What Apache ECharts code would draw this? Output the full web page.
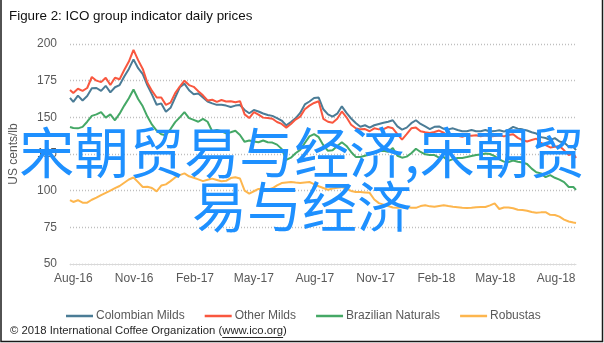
<!DOCTYPE html>
<html>
<head>
<meta charset="utf-8">
<script src="https://cdn.jsdelivr.net/npm/echarts@6/dist/echarts.min.js"></script>
<style>
  html, body { margin: 0; padding: 0; background: #fff; }
  #chart { width: 604px; height: 343px; }
</style>
</head>
<body>
<div id="chart"></div>
<script>
// Weekly readings of the ICO group indicator prices (US cents/lb)
const dates = [
  '2016-07-27',
  '2016-08-01','2016-08-08','2016-08-15','2016-08-22','2016-08-29',
  '2016-09-05','2016-09-12','2016-09-19','2016-09-26',
  '2016-10-03','2016-10-10','2016-10-17','2016-10-24','2016-10-31',
  '2016-11-07','2016-11-14','2016-11-21','2016-11-28',
  '2016-12-05','2016-12-12','2016-12-19','2016-12-26',
  '2017-01-02','2017-01-09','2017-01-16','2017-01-23','2017-01-30',
  '2017-02-06','2017-02-13','2017-02-20','2017-02-27',
  '2017-03-06','2017-03-13','2017-03-20','2017-03-27',
  '2017-04-03','2017-04-10','2017-04-17','2017-04-24',
  '2017-05-01','2017-05-08','2017-05-15','2017-05-22','2017-05-29',
  '2017-06-05','2017-06-12','2017-06-19','2017-06-26',
  '2017-07-03','2017-07-10','2017-07-17','2017-07-24','2017-07-31',
  '2017-08-07','2017-08-14','2017-08-21','2017-08-28',
  '2017-09-04','2017-09-11','2017-09-18','2017-09-25',
  '2017-10-02','2017-10-09','2017-10-16','2017-10-23','2017-10-30',
  '2017-11-06','2017-11-13','2017-11-20','2017-11-27',
  '2017-12-04','2017-12-11','2017-12-18','2017-12-25',
  '2018-01-01','2018-01-08','2018-01-15','2018-01-22','2018-01-29',
  '2018-02-05','2018-02-12','2018-02-19','2018-02-26',
  '2018-03-05','2018-03-12','2018-03-19','2018-03-26',
  '2018-04-02','2018-04-09','2018-04-16','2018-04-23','2018-04-30',
  '2018-05-07','2018-05-14','2018-05-21','2018-05-28',
  '2018-06-04','2018-06-11','2018-06-18','2018-06-25',
  '2018-07-02','2018-07-09','2018-07-16','2018-07-23','2018-07-30',
  '2018-08-06','2018-08-13','2018-08-20','2018-08-27',
  '2018-08-31'
];

const colombianMilds = [
  163.2,
  160.5, 164.8, 161.5, 164.5, 169.8, 170, 168, 171.5, 167, 170.5,
  172, 177.8, 183, 189.5, 183.5, 179.5, 171.8, 165.5, 158.6, 159.5,
  153.8, 156.5, 163.5, 170.5, 173, 168.5, 165.8, 166.2, 163.5, 160.8,
  159.5, 158.5, 158.6, 158, 157, 158, 158.4, 155, 152.8, 155,
  154, 152.6, 151.6, 151, 149.5, 147.8, 144.5, 146.8, 149.3, 153,
  158.8, 160.8, 163.2, 163.5, 155.5, 152, 150.5, 152.5, 157.5, 153,
  149.2, 146.1, 143.6, 144.6, 143, 144.6, 145.5, 146.3, 147, 148,
  143.8, 141.6, 143, 146, 148, 145.5, 143.8, 142, 143.5, 143.8,
  142.2, 141.8, 142.5, 141.4, 140.5, 140.5, 141.4, 140.5, 140.5, 141.4,
  140.3, 140.6, 141.2, 140.3, 141.5, 143.5, 142.3, 141.8, 141, 139.8,
  139, 136.5, 135.9, 134.5, 135.8, 133.5, 132.8, 130, 129.8,
  127.7
];

const otherMilds = [
  168.6,
  166.6, 169.5, 168, 170, 177.5, 175, 174, 177, 172, 177,
  176, 182.3, 188, 196, 189, 183, 173.5, 168, 163.5, 163.5,
  158.5, 160, 166.5, 171, 175, 172, 170.8, 167.8, 165, 161.5,
  162, 160.5, 161.8, 160.8, 161, 160.3, 161, 152, 149.5, 153.6,
  151.8, 149.8, 149.5, 149, 146.8, 145.5, 143, 145.5, 148.5, 150.5,
  155.5, 158, 159.8, 161, 149, 147, 146.3, 149, 154, 150,
  145, 142.5, 141.8, 142, 140.5, 142.5, 141.8, 142, 143.4, 142.5,
  138.5, 134.8, 138.5, 142.5, 143, 140.5, 139.8, 139.3, 140, 141,
  139.5, 137.2, 137.8, 137.4, 136.8, 137.8, 137.5, 137.8, 137, 138,
  137, 137.2, 137.8, 137, 138, 138.5, 136, 134.5, 133.5, 134.5,
  135.5, 132.5, 131, 129.5, 130, 130.5, 127.5, 124.3, 125.5,
  122.3
];

const brazilianNaturals = [
  143.4,
  142.7, 142.5, 143.5, 147, 151, 152, 153.5, 149.8, 152, 148,
  152.5, 158, 163, 169, 162.5, 157.5, 150.5, 145, 141, 138.5,
  137.8, 142, 146.7, 150, 153.5, 149.5, 148.3, 147, 149, 147,
  140.5, 141.3, 140.5, 139, 139.8, 140.8, 138, 133.3, 134.2, 133.5,
  133, 134.2, 133, 132.8, 131.4, 128.5, 121, 122.5, 125.5, 127.8,
  132.5, 137, 138.6, 136.5, 131, 127.2, 127.5, 130.5, 133, 130.5,
  126.4, 123, 123, 123.8, 124.8, 125.6, 127, 127.2, 126.5, 129,
  123.8, 122.5, 123.2, 125.5, 128.6, 126.4, 124.8, 124.3, 124.3, 122.5,
  123, 120.3, 121.5, 122.3, 122.3, 122.9, 123.6, 124.3, 124.6, 125.3,
  125, 123.5, 121.4, 119.8, 119.5, 120.6, 119.7, 119.2, 118.2, 115,
  112.6, 111.8, 109.2, 110.6, 108.8, 107.5, 105.8, 102.5, 102.5,
  100.5
];

const robustas = [
  93.6,
  92.3, 93.5, 91.8, 91.8, 93.8, 95.2, 97, 98.5, 100, 101.7,
  103.2, 105.4, 107.6, 109, 105.8, 102.5, 102.7, 101.8, 99.5, 103.5,
  104.3, 106.5, 109, 110.6, 111.8, 109.8, 108.8, 107.7, 106.5, 107.4,
  108.2, 107.3, 106.4, 106.7, 108.6, 109.1, 108.3, 100, 98, 99.6,
  101.2, 101.3, 100.7, 101.6, 103.6, 105.2, 105.6, 105.9, 105.5, 105.2,
  105.6, 105.9, 104.5, 103, 101.8, 100.6, 101.5, 102, 102.4, 101.3,
  99.8, 99.1, 99.1, 98.8, 98.5, 94, 91.5, 90.5, 89.5, 88.5,
  88.4, 88.7, 88.8, 88.4, 88.3, 89.5, 90.1, 89.3, 89, 89.6,
  90.1, 89.5, 89, 88.7, 88.4, 88.2, 88.3, 88.7, 88.9, 88.9,
  90, 91.3, 87.5, 88.5, 88.5, 88, 87, 86.8, 86.3, 85.4,
  85, 85.2, 85.3, 83.5, 83.4, 82.3, 80.3, 79, 78.3,
  78
];

const seriesNames = ['Colombian Milds', 'Other Milds', 'Brazilian Naturals', 'Robustas'];
const seriesColors = ['#4B7C96', '#F9573F', '#45A866', '#FDB64E'];

const tickDates = ['2016-08-01','2016-11-01','2017-02-01','2017-05-01','2017-08-01',
                   '2017-11-01','2018-02-01','2018-05-01','2018-08-01'];
const tickLabels = ['Aug-16','Nov-16','Feb-17','May-17','Aug-17','Nov-17','Feb-18','May-18','Aug-18'];
const firstDate = '2016-07-27';
const lastDate = '2018-08-31';

const titleText = 'Figure 2: ICO group indicator daily prices';
const unitText = 'US cents/lb';
const footerPrefix = '\u00A9 2018 International Coffee Organization (';
const footerLink = 'www.ico.org';
const footerSuffix = ')';
const overlayText = '宋朝贸易与经济,宋朝贸易与经济';

// dates become day numbers counted from 1 Aug 2016
function dayNum(s) {
  const p = s.split('-').map(Number);
  return Math.round((Date.UTC(p[0], p[1] - 1, p[2]) - Date.UTC(2016, 7, 1)) / 86400000);
}
const tickDays = tickDates.map(dayNum);

function labelFor(v) {
  let best = 0;
  for (let i = 1; i < tickDays.length; i++) {
    if (Math.abs(tickDays[i] - v) < Math.abs(tickDays[best] - v)) best = i;
  }
  return tickLabels[best];
}

const valueLists = [colombianMilds, otherMilds, brazilianNaturals, robustas];
const series = valueLists.map((vals, k) => ({
  name: seriesNames[k],
  type: 'line',
  showSymbol: false,
  symbol: 'none',
  color: seriesColors[k],
  lineStyle: { width: 2, color: seriesColors[k] },
  data: dates.map((d, i) => [dayNum(d), vals[i]])
}));

const FONT = 'Liberation Sans';
const footerSize = 11.3;
const mctx = document.createElement('canvas').getContext('2d');
mctx.font = footerSize + 'px "' + FONT + '"';
const wPrefix = mctx.measureText(footerPrefix).width;
const wLink = mctx.measureText(footerLink).width;
const footerX = 10, footerY = 331;

const chart = echarts.init(document.getElementById('chart'), null, { renderer: 'canvas' });
chart.setOption({
  animation: false,
  backgroundColor: '#ffffff',
  textStyle: { fontFamily: FONT },
  title: {
    text: titleText,
    left: 4, top: 5,
    textStyle: { fontSize: 13.4, fontWeight: 'normal', color: '#111', fontFamily: FONT }
  },
  grid: { left: 68, right: 28, top: 44, bottom: 79, containLabel: false },
  xAxis: {
    type: 'value',
    min: dayNum(firstDate),
    max: dayNum(lastDate),
    axisLine: { show: true, onZero: false, lineStyle: { color: '#D9D9D9', width: 1 } },
    axisTick: { show: false },
    splitLine: { show: false },
    axisLabel: {
      customValues: tickDays,
      formatter: labelFor,
      color: '#595959',
      fontSize: 12,
      margin: 9,
      hideOverlap: false,
      showMinLabel: true,
      showMaxLabel: true,
      fontFamily: FONT
    }
  },
  yAxis: {
    type: 'value',
    min: 50, max: 200, interval: 25,
    name: unitText,
    nameLocation: 'middle',
    nameGap: 50,
    nameRotate: 90,
    nameTextStyle: { color: '#595959', fontSize: 12, fontFamily: FONT },
    axisLine: { show: false },
    axisTick: { show: false },
    axisLabel: { color: '#595959', fontSize: 12, margin: 13, fontFamily: FONT },
    splitLine: { show: true, lineStyle: { color: '#BFBFBF', width: 1.3, type: [1, 2] } }
  },
  legend: {
    data: seriesNames,
    left: 61, top: 305,
    icon: 'rect',
    itemWidth: 27, itemHeight: 2.5,
    itemGap: 20,
    textStyle: { color: '#595959', fontSize: 12, fontFamily: FONT, padding: [0, 0, 0, -2] }
  },
  series: series,
  graphic: [
    {
      type: 'text', x: footerX, y: footerY, z: 10,
      style: { text: footerPrefix + footerLink + footerSuffix, fill: '#262626',
               font: footerSize + 'px "' + FONT + '"', verticalAlign: 'middle', align: 'left' }
    },
    {
      type: 'line', z: 10,
      shape: { x1: footerX + wPrefix, y1: footerY + 6.5, x2: footerX + wPrefix + wLink, y2: footerY + 6.5 },
      style: { stroke: '#262626', lineWidth: 1 }
    },
    {
      type: 'polyline', z: 10,
      shape: { points: [[1, 0], [1, 341.5], [602.5, 341.5], [602.5, 0]] },
      style: { stroke: '#1a1a1a', lineWidth: 1.5, fill: null }
    },
    {
      type: 'text', x: 302, y: 125, z: 100,
      style: {
        text: overlayText,
        width: 596,
        overflow: 'break',
        align: 'center',
        verticalAlign: 'top',
        lineHeight: 54,
        font: '55px "Noto Sans CJK SC"',
        fill: '#1E90FF'
      }
    }
  ]
});
</script>
</body>
</html>
